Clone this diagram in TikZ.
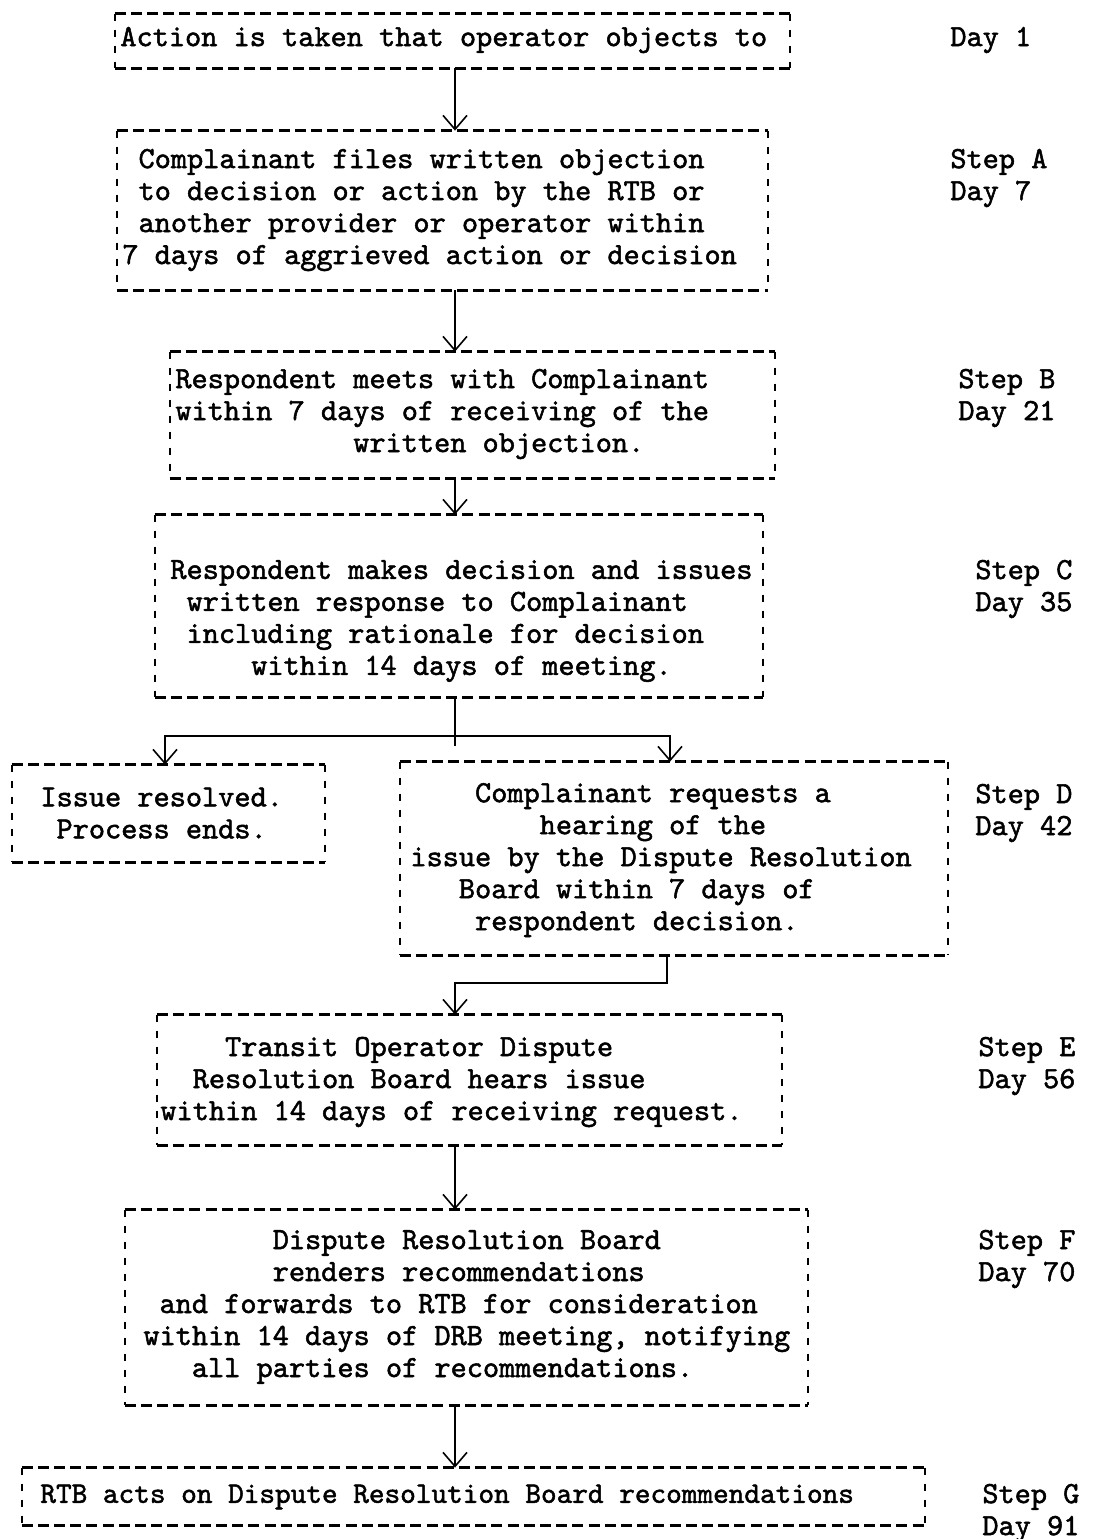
\documentclass[tikz,border=0pt]{standalone}
\usepackage{fontspec}
\newfontfamily\tw{lmmono10-regular.otf}[FakeBold=1.6]
\usetikzlibrary{arrows.meta,fit}

% one character cell of the typewriter face
\newcommand\pad[1]{\hspace*{\fpeval{0.525*#1}em}}

% dashed box from (x1,y1) to (x2,y2): typed hyphens on top and bottom, broken bars on the sides
\newcommand\tbox[5]{%
  \coordinate (#1-nw) at (#2,#3);
  \coordinate (#1-se) at (#4,#5);
  \node[fit=(#1-nw)(#1-se), inner sep=0pt] (#1) {};
  \draw[hline] (#1.north west) -- (#1.north east) (#1.south west) -- (#1.south east);
  \draw[vline] (#1.north west) -- (#1.south west) (#1.north east) -- (#1.south east);
}

\tikzset{
  hline/.style={line width=1.4pt, dash pattern=on 5.5pt off 2.6pt},
  vline/.style={line width=1pt, dash pattern=on 3.5pt off 4.5pt},
  txt/.style={font=\tw\fontsize{15.4}{16}\selectfont, align=left, inner sep=0pt, anchor=west},
  link/.style={line width=0.8pt},
  arr/.style={link, -{Straight Barb[length=7pt, width=12pt, line width=0.8pt]}},
}

\begin{document}
\begin{tikzpicture}[x=0.5pt, y=-0.5pt]
\useasboundingbox (0,0) rectangle (1102,1539);

% boxes
\tbox{b0}{115}{14}{790}{68}
\tbox{bA}{117}{131}{768}{290}
\tbox{bB}{170}{352}{775}{478}
\tbox{bC}{155}{515}{763}{697}
\tbox{bI}{12}{765}{325}{862}
\tbox{bD}{400}{762}{948}{955}
\tbox{bE}{157}{1015}{782}{1145}
\tbox{bF}{125}{1210}{808}{1405}
\tbox{bG}{22}{1468}{925}{1525}

% box texts
\node[txt] (t0) at (120,40) {Action is taken that operator objects to};
\node[txt] (tA) at (122,210) {\pad{1}Complainant files written objection\\
  \pad{1}to decision or action by the RTB or\\
  \pad{1}another provider or operator within\\
  7 days of aggrieved action or decision};
\node[txt] (tB) at (175,414) {Respondent meets with Complainant\\
  within 7 days of receiving of the\\
  \pad{11}written objection.};
\node[txt] (tC) at (170,621) {Respondent makes decision and issues\\
  \pad{1}written response to Complainant\\
  \pad{1}including rationale for decision\\
  \pad{5}within 14 days of meeting.};
\node[txt] (tI) at (40,813) {Issue resolved.\\\pad{1}Process ends.};
\node[txt] (tD) at (410,860) {\pad{4}Complainant requests a\\
  \pad{8}hearing of the\\
  issue by the Dispute Resolution\\
  \pad{3}Board within 7 days of\\
  \pad{4}respondent decision.};
\node[txt] (tE) at (160,1082) {\pad{4}Transit Operator Dispute\\
  \pad{2}Resolution Board hears issue\\
  within 14 days of receiving request.};
\node[txt] (tF) at (143,1307) {\pad{8}Dispute Resolution Board\\
  \pad{8}renders recommendations\\
  \pad{1}and forwards to RTB for consideration\\
  within 14 days of DRB meeting, notifying\\
  \pad{3}all parties of recommendations.};
\node[txt, font=\tw\fontsize{14.9}{16}\selectfont] (tG) at (40,1497)
  {RTB acts on Dispute Resolution Board recommendations};

% step and day labels
\node[txt] (d0) at (950,40) {Day 1};
\node[txt] (dA) at (950,178) {Step A\\Day 7};
\node[txt] (dB) at (958,398) {Step B\\Day 21};
\node[txt] (dC) at (975,589) {Step C\\Day 35};
\node[txt] (dD) at (975,813) {Step D\\Day 42};
\node[txt] (dE) at (978,1066) {Step E\\Day 56};
\node[txt] (dF) at (978,1259) {Step F\\Day 70};
\node[txt] (dG) at (982,1513) {Step G\\Day 91};

% connectors
\coordinate (spine) at (455,0);
\coordinate (fork) at (455,736);
\coordinate (forkend) at (455,746);
\coordinate (leftdrop) at (165,0);
\coordinate (rightdrop) at (670,0);
\coordinate (jog) at (667,983);

\draw[arr] (spine |- b0.south) -- (spine |- bA.north);
\draw[arr] (spine |- bA.south) -- (spine |- bB.north);
\draw[arr] (spine |- bB.south) -- (spine |- bC.north);
\draw[link] (spine |- bC.south) -- (forkend);
\draw[arr] (fork) -| (leftdrop |- bI.north);
\draw[arr] (fork) -| (rightdrop |- bD.north);
\draw[arr] (jog |- bD.south) -- (jog) -- (spine |- jog) -- (spine |- bE.north);
\draw[arr] (spine |- bE.south) -- (spine |- bF.north);
\draw[arr] (spine |- bF.south) -- (spine |- bG.north);
\end{tikzpicture}
\end{document}
